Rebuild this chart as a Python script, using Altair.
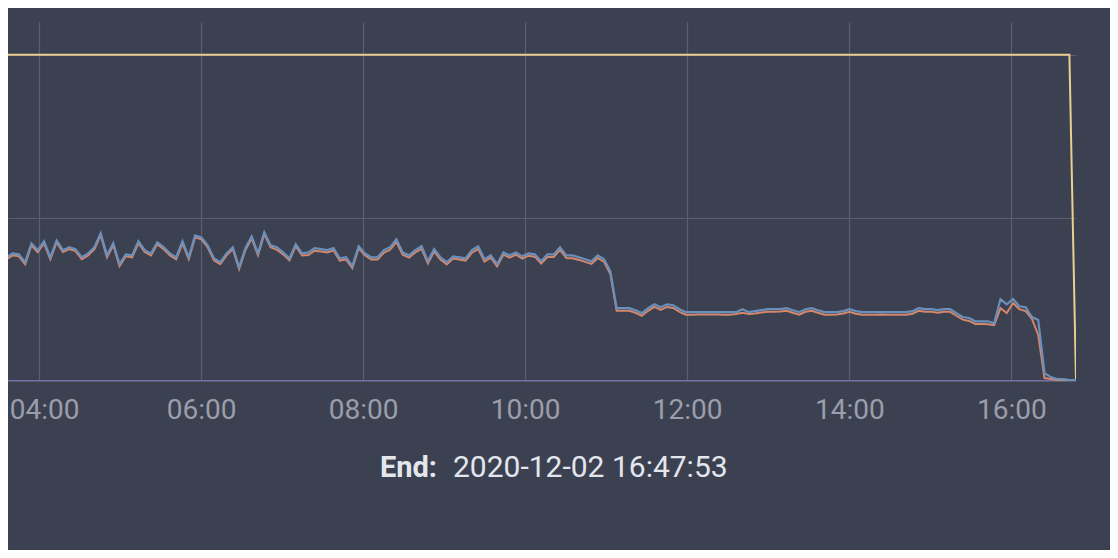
import altair as alt
import pandas as pd

# ---- data ----
START = "2020-12-02T03:31:07"
END = "2020-12-02T16:47:53"

BLUE = [
    40.7, 37.9, 39.1, 38.8, 36.4, 42.2, 40.1, 42.8, 37.9, 43.1,
    40.1, 41.0, 40.4, 37.9, 39.1, 41.0, 45.3, 38.5, 42.2, 35.8,
    38.8, 38.5, 42.8, 40.1, 39.1, 42.5, 41.0, 39.1, 37.9, 42.8,
    37.9, 44.6, 44.0, 41.6, 37.6, 36.4, 39.1, 41.0, 34.9, 40.7,
    44.3, 39.1, 45.6, 41.6, 41.0, 39.4, 37.6, 41.9, 39.1, 39.4,
    40.7, 40.4, 40.1, 40.7, 37.6, 37.9, 35.2, 41.3, 39.1,
    37.9, 37.9, 40.1, 41.0, 43.4, 39.4, 38.5, 40.1, 41.3, 36.7,
    40.4, 37.9, 36.4, 38.2, 37.9, 37.6, 40.1, 41.3, 37.3, 38.5,
    35.8, 39.4, 38.5, 39.4, 38.2, 39.1, 38.8, 36.7, 38.8, 38.8,
    41.0, 38.5, 38.5, 37.9, 37.3, 36.7, 38.5, 37.3, 33.6,
    22.3, 22.3, 22.3, 21.7, 20.8, 22.3, 23.5, 22.6, 23.5, 23.2,
    22.0, 21.1, 21.1, 21.1, 21.1, 21.1, 21.1, 21.1, 21.1, 21.1,
    22.0, 21.1, 21.4, 21.7, 22.0, 22.0, 22.0, 22.3, 21.7, 21.1,
    22.0, 22.3, 21.7, 21.1, 21.1, 21.1, 21.4, 22.0, 21.4, 21.1,
    21.1, 21.1, 21.1, 21.1, 21.1, 21.1, 21.1, 21.4, 22.3, 22.0,
    22.0, 21.7, 22.0, 22.0, 20.8, 19.6, 19.3, 18.3, 18.3, 18.3,
    17.7, 25.1, 23.5, 25.1, 22.9, 22.6, 19.6, 18.7, 2.4, 1.2,
    0.6, 0.6, 0.3, 0.3,
]

ORANGE = [
    40.1, 37.3, 38.5, 38.2, 35.8, 41.6, 39.5, 42.2, 37.3, 42.5,
    39.5, 40.4, 39.8, 37.3, 38.5, 40.4, 44.7, 37.9, 41.6, 35.2,
    38.2, 37.9, 42.2, 39.5, 38.5, 41.9, 40.4, 38.5, 37.3, 42.2,
    37.3, 44.0, 43.4, 41.0, 37.0, 35.8, 38.5, 40.4, 34.3, 40.1,
    43.7, 38.5, 45.0, 41.0, 40.2, 38.8, 37.0, 41.3, 38.5, 38.6,
    39.9, 39.7, 39.4, 40.0, 36.9, 37.2, 34.6, 40.7, 38.5,
    37.2, 37.2, 39.3, 40.2, 42.6, 38.7, 37.8, 39.4, 40.5, 36.0,
    39.7, 37.2, 35.7, 37.5, 37.2, 36.9, 39.3, 40.5, 36.6, 37.8,
    35.1, 38.7, 37.8, 38.7, 37.5, 38.4, 38.1, 36.0, 38.0, 38.0,
    40.2, 37.7, 37.6, 37.1, 36.5, 35.9, 37.7, 36.5, 32.8,
    21.5, 21.5, 21.5, 20.9, 20.0, 21.5, 22.7, 21.8, 22.7, 22.4,
    21.2, 20.3, 20.3, 20.4, 20.4, 20.4, 20.4, 20.3, 20.3, 20.5,
    20.9, 20.5, 20.7, 21.0, 21.2, 21.2, 21.3, 21.5, 20.9, 20.3,
    21.2, 21.5, 20.9, 20.3, 20.3, 20.4, 20.7, 21.2, 20.6, 20.3,
    20.3, 20.3, 20.4, 20.3, 20.3, 20.3, 20.3, 20.6, 21.5, 21.2,
    21.2, 20.9, 21.2, 21.2, 20.0, 18.8, 18.4, 17.5, 17.5, 17.4,
    17.1, 22.3, 20.8, 23.9, 22.0, 21.4, 19.0, 14.1, 0.9, 0.6,
    0.3, 0.3, 0.2, 0.2,
]

YELLOW_TIMES = ["2020-12-02T03:31:07", "2020-12-02T16:43:00", "2020-12-02T16:47:53"]
YELLOW_VALUES = [100, 100, 0]

PURPLE_TIMES = ["2020-12-02T03:31:07", "2020-12-02T16:47:53"]
PURPLE_VALUES = [0, 0]

TICK_HOURS = [4, 6, 8, 10, 12, 14, 16]
Y_GRID = [0, 50, 100]

END_LABEL = ["End:"]
END_TIME = ["2020-12-02 16:47:53"]

# ---- tables ----
times = pd.date_range(START, END, periods=len(BLUE)).strftime("%Y-%m-%dT%H:%M:%S")
df = pd.DataFrame({"time": list(times), "blue": BLUE, "orange": ORANGE})
df_y = pd.DataFrame({"time": YELLOW_TIMES, "value": YELLOW_VALUES})
df_p = pd.DataFrame({"time": PURPLE_TIMES, "value": PURPLE_VALUES})


def dt(h, m=0, s=0):
    return alt.DateTime(year=2020, month=12, date=2, hours=h, minutes=m, seconds=s)


x_scale = alt.Scale(domain=[dt(3, 37, 2), dt(16, 47, 53)])
x_axis = alt.Axis(values=[dt(h) for h in TICK_HOURS], format="%H:%M", title=None,
                  grid=True, labelPadding=15,
                  labelOffset={"condition": {"test": "datum.index == 0", "value": 5}, "value": 0})
y_scale = alt.Scale(domain=[0, 110], nice=False, zero=True)
y_axis = alt.Axis(values=Y_GRID, labels=False, ticks=False, domain=False,
                  title=None, grid=True)


def xenc():
    return alt.X("time:T", scale=x_scale, axis=x_axis)


purple = alt.Chart(df_p).mark_line(color="#7a68b0", strokeWidth=2, clip=True).encode(
    x=xenc(), y=alt.Y("value:Q", scale=y_scale, axis=y_axis))
yellow = alt.Chart(df_y).mark_line(color="#e9cf8e", strokeWidth=2, clip=True).encode(
    x=xenc(), y=alt.Y("value:Q", scale=y_scale, axis=y_axis))
orange = alt.Chart(df).mark_line(color="#d4876b", strokeWidth=2, clip=True).encode(
    x=xenc(), y=alt.Y("orange:Q", scale=y_scale, axis=y_axis))
blue = alt.Chart(df).mark_line(color="#6a8fba", strokeWidth=2.2, clip=True).encode(
    x=xenc(), y=alt.Y("blue:Q", scale=y_scale, axis=y_axis))

t1 = alt.Chart(pd.DataFrame({"t": END_LABEL})).mark_text(
    align="right", baseline="middle", fontSize=29, fontWeight="bold",
    color="#e4e6ee", font="Roboto").encode(text="t:N", x=alt.value(429), y=alt.value(446))
t2 = alt.Chart(pd.DataFrame({"t": END_TIME})).mark_text(
    align="left", baseline="middle", fontSize=30, color="#e4e6ee",
    font="Roboto").encode(text="t:N", x=alt.value(445), y=alt.value(446))

chart = alt.layer(purple, yellow, orange, blue, t1, t2).properties(
    width=1068, height=359,
    autosize=alt.AutoSizeParams(type="none"),
    padding={"left": 0, "top": 14, "right": 34, "bottom": 169},
).configure(background="#3c4152", font="Roboto").configure_view(
    stroke=None
).configure_axis(
    gridColor="#5a5f70", gridWidth=1.2, labelColor="#9a9eab", labelFontSize=28,
    labelFont="Roboto", domain=False, ticks=False
)

chart.save("out.html", embed_options={"renderer": "svg", "actions": False})
